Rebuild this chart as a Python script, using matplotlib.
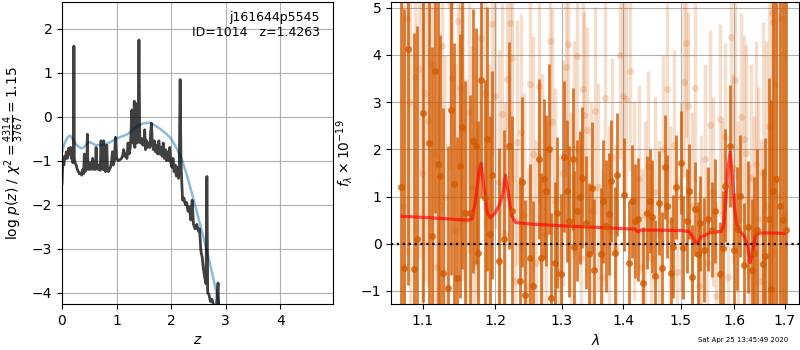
import numpy as np
import matplotlib
matplotlib.use('Agg')
import matplotlib.pyplot as plt
from matplotlib.ticker import FixedLocator, NullLocator, FormatStrFormatter

# left panel: log p(z) (dark) and smooth chi2 curve (blue)
z_pz = [0.000, 0.010, 0.020, 0.035, 0.050, 0.065, 0.080, 0.095, 0.110, 0.125,
        0.140, 0.155, 0.170, 0.185, 0.200, 0.210, 0.218, 0.226, 0.240, 0.260,
        0.280, 0.300, 0.320, 0.340, 0.360, 0.380, 0.395, 0.410, 0.425, 0.440,
        0.455, 0.465, 0.475, 0.490, 0.510, 0.525, 0.540, 0.560, 0.575, 0.590,
        0.610, 0.625, 0.640, 0.660, 0.680, 0.700, 0.715, 0.730, 0.750, 0.765,
        0.780, 0.800, 0.820, 0.835, 0.850, 0.870, 0.890, 0.910, 0.925, 0.940,
        0.960, 0.980, 1.000, 1.030, 1.060, 1.090, 1.110, 1.130, 1.150, 1.170,
        1.190, 1.210, 1.230, 1.250, 1.265, 1.280, 1.290, 1.310, 1.325, 1.335,
        1.350, 1.365, 1.380, 1.395, 1.410, 1.425, 1.440, 1.460, 1.480, 1.500,
        1.515, 1.530, 1.550, 1.570, 1.590, 1.610, 1.625, 1.640, 1.655, 1.675,
        1.695, 1.715, 1.735, 1.755, 1.775, 1.795, 1.815, 1.835, 1.855, 1.875,
        1.895, 1.915, 1.935, 1.955, 1.975, 1.995, 2.015, 2.035, 2.055, 2.075,
        2.095, 2.115, 2.135, 2.150, 2.165, 2.180, 2.195, 2.210, 2.235, 2.260,
        2.285, 2.310, 2.335, 2.360, 2.385, 2.410, 2.440, 2.470, 2.500, 2.520,
        2.545, 2.570, 2.590, 2.615, 2.640, 2.655, 2.670, 2.695, 2.720, 2.750,
        2.790, 2.830, 2.860, 2.875]
logp = [-1.52, -1.15, -1.00, -1.10, -0.90, -0.95, -0.80, -0.95, -0.85, -0.72,
        -0.85, -0.70, -0.95, -0.80, -1.05, -0.90, 1.60, -0.95, -1.05, -1.10,
        -1.20, -1.25, -1.30, -1.28, -1.33, -1.20, -1.30, -0.85, -1.25, -1.15,
        -1.20, -0.40, -1.10, -1.20, -1.05, -1.20, -1.15, -0.95, -1.20, -1.10,
        -1.20, -0.70, -1.15, -1.20, -1.10, -1.22, -0.55, -1.15, -1.20, -0.55,
        -1.20, -1.25, -0.65, -1.20, -1.25, -1.20, -1.15, -1.00, -0.80, -1.10,
        -1.00, -0.47, -0.95, -1.00, -0.98, -0.95, -0.90, -0.75, -0.90, -0.85,
        -0.95, -0.60, -0.85, -0.70, -0.40, 0.15, -0.60, -0.30, 0.35, -0.70,
        0.30, -0.50, -0.60, -0.30, 1.74, -0.55, -0.60, -0.50, -0.65, -0.60,
        -0.30, -0.75, -0.55, -0.70, -0.60, -0.70, -0.35, -0.15, -0.60, -0.75,
        -0.55, -0.80, -0.65, -0.85, -0.55, -0.85, -0.70, -0.90, -0.60, -0.95,
        -0.75, -1.00, -0.80, -1.00, -0.70, -1.05, -1.15, -0.95, -1.25, -1.10,
        -1.35, -1.15, -1.40, -1.10, 0.84, -1.00, -1.50, -1.90, -1.85, -2.00,
        -1.95, -2.15, -2.05, -2.35, -1.90, -2.45, -2.55, -2.45, -2.60, -2.55,
        -3.05, -3.20, -3.45, -3.65, -3.80, -1.36, -4.00, -4.05, -4.20, -4.15,
        -4.35, -4.30, -3.78, -4.50]

z_chi = [0.00, 0.05, 0.10, 0.15, 0.20, 0.25, 0.30, 0.35, 0.40, 0.45, 0.50,
         0.55, 0.60, 0.70, 0.80, 0.90, 1.00, 1.10, 1.20, 1.30, 1.40, 1.50,
         1.60, 1.70, 1.80, 1.90, 2.00, 2.10, 2.20, 2.30, 2.40, 2.50, 2.60,
         2.70, 2.80, 2.90]
chi_curve = [-0.80, -0.60, -0.47, -0.43, -0.52, -0.62, -0.68, -0.72, -0.70,
             -0.62, -0.58, -0.60, -0.64, -0.65, -0.63, -0.57, -0.50, -0.45,
             -0.40, -0.30, -0.20, -0.15, -0.14, -0.20, -0.28, -0.38, -0.50,
             -0.72, -0.98, -1.38, -1.83, -2.30, -2.78, -3.28, -3.82, -4.40]

# right panel: spectrum, first beam (dark)
wave_a = [1.072, 1.076, 1.081, 1.089, 1.093, 1.100, 1.108,
          1.112, 1.116, 1.120, 1.123, 1.127, 1.134, 1.138, 1.142, 1.146,
          1.150, 1.153, 1.157, 1.164, 1.169, 1.173, 1.176, 1.180, 1.185,
          1.188, 1.192, 1.195, 1.205, 1.213, 1.220, 1.225,
          1.236, 1.239, 1.244, 1.252, 1.256, 1.265,
          1.268, 1.272, 1.276, 1.280, 1.283, 1.289, 1.293, 1.299, 1.303, 1.308,
          1.312, 1.318, 1.320, 1.325, 1.329, 1.333, 1.338, 1.343, 1.348, 1.352,
          1.363, 1.367, 1.372, 1.377, 1.379, 1.386, 1.390, 1.401,
          1.409, 1.414, 1.420, 1.425, 1.433, 1.440, 1.446, 1.450, 1.455, 1.461,
          1.466, 1.472, 1.476, 1.482, 1.487, 1.492, 1.500, 1.504, 1.511, 1.515,
          1.520, 1.527, 1.531, 1.535, 1.542, 1.551, 1.557, 1.563,
          1.573, 1.578, 1.583, 1.592, 1.599, 1.605, 1.611, 1.619,
          1.626, 1.634, 1.639, 1.644, 1.657, 1.661, 1.668, 1.672,
          1.677, 1.683, 1.690, 1.697, 1.703]
flux_a = [1.20, -0.52, 4.13, -0.53, 0.11, 2.77, 2.13,
          0.17, 3.66, 1.69, 1.43, -0.62, -0.93, 2.84, 1.26, -0.73,
          1.64, 2.47, 0.65, 0.65, 2.18, 2.08, -0.19, 3.47, 0.96,
          2.22, 0.20, 1.46, -0.37, 0.10, 2.08, 0.70,
          -0.78, 1.30, -1.08, -0.30, -0.90, 1.79,
          -0.30, 1.37, 1.12, 2.00, -1.15, -0.40, 0.66, -0.65, 1.84, 1.12,
          0.48, 1.79, -0.06, 0.70, 0.98, 1.40, 0.45, -0.22, 1.19, -0.55,
          -0.21, 0.90, 0.38, 0.63, 1.33, -0.19, 1.46, 1.04,
          -0.40, 0.90, 0.48, 0.52, -0.84, 0.66, 0.90, 0.57, -0.69, 0.87,
          -0.52, 1.62, 0.79, -0.63, -0.06, 1.20, 1.72, -0.08, 0.48, 1.11,
          -0.70, 0.74, -0.22, 0.43, -0.13, 0.52, 0.30, 0.70,
          -0.64, -0.09, 1.23, 2.07, -0.13, 0.32, 1.01, -0.44,
          0.35, -0.55, -0.19, 0.30, -0.42, -0.26, 0.52, -0.96,
          1.11, 1.38, 0.80, 0.50, 0.30]
err_a = [6.0, 5.5, 5.0, 5.0, 4.5, 4.0, 3.5,
         4.0, 3.0, 3.5, 3.0, 3.5, 3.0, 3.5, 3.0, 3.0,
         2.8, 3.0, 2.8, 2.5, 2.8, 2.5, 2.8, 2.5, 2.5,
         2.8, 2.5, 2.2, 2.4, 2.3, 2.2, 2.0,
         2.2, 1.8, 2.0, 2.0, 1.8, 1.7,
         1.8, 1.7, 1.6, 1.8, 1.8, 1.7, 1.6, 1.7, 1.6, 1.5,
         1.6, 1.5, 1.6, 1.5, 1.4, 1.5, 1.4, 1.5, 1.4, 1.5,
         1.4, 1.3, 1.4, 1.3, 1.3, 1.4, 1.3, 1.2,
         1.3, 1.2, 1.2, 1.3, 1.2, 1.2, 1.1, 1.2, 1.2, 1.1,
         1.2, 1.1, 1.1, 1.2, 1.1, 1.1, 1.1, 1.1, 1.1, 1.0,
         1.1, 1.0, 1.1, 1.0, 1.1, 1.1, 1.0, 1.1,
         1.1, 1.2, 1.2, 1.3, 1.2, 1.3, 1.3, 1.3,
         1.4, 1.5, 1.6, 1.7, 2.0, 2.5, 3.0, 4.0,
         5.0, 6.0, 7.0, 8.0, 8.0]

# second beam (faint)
wave_b = [1.074, 1.079, 1.083, 1.090, 1.095, 1.099, 1.103, 1.107, 1.111, 1.115,
          1.119, 1.126, 1.130, 1.136, 1.140, 1.144, 1.148, 1.151, 1.155, 1.159,
          1.163, 1.167, 1.171, 1.175, 1.180, 1.186, 1.191, 1.196, 1.200, 1.205,
          1.210, 1.214, 1.218, 1.222, 1.225, 1.229, 1.232, 1.238, 1.243, 1.248,
          1.252, 1.256, 1.261, 1.265, 1.270, 1.275, 1.282, 1.285, 1.290, 1.296,
          1.302, 1.307, 1.310, 1.315, 1.320, 1.324, 1.330, 1.334, 1.336, 1.340,
          1.346, 1.353, 1.358, 1.364, 1.370, 1.376, 1.382, 1.388, 1.394, 1.399,
          1.405, 1.411, 1.418, 1.426, 1.432, 1.437, 1.442, 1.448, 1.455, 1.462,
          1.468, 1.475, 1.481, 1.488, 1.494, 1.500, 1.506, 1.509, 1.514, 1.520,
          1.527, 1.533, 1.538, 1.544, 1.549, 1.554, 1.560, 1.566, 1.572, 1.577,
          1.582, 1.588, 1.594, 1.598, 1.602, 1.607, 1.613, 1.619, 1.623, 1.628,
          1.633, 1.638, 1.642, 1.647, 1.652, 1.657, 1.662, 1.668, 1.674, 1.677,
          1.681, 1.687, 1.693, 1.699]
flux_b = [0.80, 4.77, 3.00, 3.53, 3.70, 1.50, 3.20, 2.60, 3.80, 1.90,
          -0.50, 4.19, 1.00, 5.07, 3.52, 0.30, 4.72, 3.30, 2.40, 0.50,
          2.80, 1.20, -0.40, 1.64, 4.35, 3.20, 0.80, 4.65, 3.14, 1.30,
          2.75, 0.20, 3.50, 4.68, 3.94, -0.80, 2.15, 2.36, 0.60, -0.90,
          3.39, 1.90, -0.40, 3.35, 1.10, 0.20, 4.30, 2.57, 0.90, -0.60,
          1.50, 3.74, 4.24, 0.40, 2.00, 3.98, -0.30, 3.28, 2.72, 2.40,
          0.70, 2.82, 1.20, -0.70, 3.09, 0.30, 1.83, -0.10, 3.99, 3.13,
          3.07, 3.65, 0.90, 1.37, -0.50, 0.60, 1.65, -0.30, 1.10, 0.20,
          2.00, 3.28, 0.50, 2.10, -0.60, 1.00, 3.42, 4.26, 2.91, 0.80,
          3.30, -0.90, 0.30, 1.80, -0.40, 2.52, 1.10, -1.10, 2.65, 0.60,
          2.26, -0.70, 4.38, 1.60, 3.48, 0.50, 2.68, 2.22, 1.92, -0.60,
          1.40, 0.20, 1.70, 0.52, -0.80, 1.50, 0.80, 2.50, 4.88, 4.70,
          3.38, 1.00, 4.77, 0.60]
err_b = [6.0, 5.0, 5.0, 4.5, 4.0, 4.5, 4.0, 3.5, 3.5, 4.0,
         3.5, 3.5, 3.0, 3.5, 3.0, 3.5, 3.0, 3.0, 3.2, 3.0,
         3.0, 3.0, 3.0, 2.8, 3.0, 2.8, 3.0, 2.8, 2.8, 2.8,
         2.6, 2.8, 2.6, 2.6, 2.6, 2.8, 2.6, 2.5, 2.6, 2.5,
         2.5, 2.5, 2.6, 2.5, 2.5, 2.4, 2.5, 2.4, 2.4, 2.5,
         2.4, 2.3, 2.3, 2.4, 2.3, 2.3, 2.4, 2.3, 2.2, 2.2,
         2.3, 2.2, 2.2, 2.3, 2.2, 2.2, 2.1, 2.2, 2.2, 2.1,
         2.1, 2.1, 2.1, 2.0, 2.1, 2.0, 2.0, 2.0, 2.0, 2.0,
         2.0, 2.0, 2.0, 2.0, 2.0, 2.0, 2.0, 2.0, 2.0, 2.0,
         2.0, 2.0, 2.0, 2.0, 2.0, 2.0, 2.0, 2.0, 2.0, 2.0,
         2.0, 2.0, 2.2, 2.0, 2.1, 2.1, 2.2, 2.2, 2.3, 2.3,
         2.4, 2.5, 2.6, 2.8, 3.0, 3.2, 3.5, 4.0, 4.5, 5.0,
         5.5, 6.0, 6.0, 7.0]

# best-fit model
wave_m = [1.073, 1.100, 1.130, 1.160, 1.167, 1.172, 1.177, 1.180, 1.184, 1.189,
          1.193, 1.200, 1.207, 1.211, 1.215, 1.219, 1.224, 1.230, 1.250, 1.300,
          1.350, 1.400, 1.420, 1.425, 1.430, 1.450, 1.500, 1.515, 1.522, 1.527,
          1.532, 1.538, 1.545, 1.555, 1.575, 1.580, 1.584, 1.588, 1.592, 1.596,
          1.600, 1.605, 1.612, 1.620, 1.626, 1.631, 1.636, 1.641, 1.646, 1.660,
          1.700]
flux_m = [0.58, 0.56, 0.53, 0.50, 0.52, 0.90, 1.55, 1.70, 1.20, 0.65,
          0.55, 0.65, 0.85, 1.05, 1.45, 1.10, 0.60, 0.45, 0.42, 0.38,
          0.35, 0.32, 0.31, 0.25, 0.29, 0.29, 0.28, 0.26, 0.15, 0.02,
          0.05, 0.15, 0.18, 0.24, 0.26, 0.40, 0.95, 1.60, 1.95, 1.50,
          0.80, 0.40, 0.25, 0.15, -0.05, -0.40, -0.15, 0.15, 0.22, 0.23,
          0.22]

spec_color = '#D35A00'


def main():
    fig = plt.figure(figsize=(8, 3.5), dpi=100)
    ax1 = fig.add_axes([0.0775, 0.131, 0.339, 0.863])
    ax2 = fig.add_axes([0.489, 0.131, 0.51, 0.863])

    # p(z)
    ax1.plot(z_chi, chi_curve, color='tab:blue', alpha=0.5, lw=1.8)
    ax1.plot(z_pz, logp, color='k', alpha=0.75, lw=2)
    ax1.set_xlim(0, 4.97)
    ax1.set_ylim(-4.26, 2.6)
    ax1.set_xlabel('$z$')
    ax1.set_ylabel(r'$\log\,p(z)$ / $\chi^2=\frac{4314}{3767}=1.15$')
    ax1.grid()
    ax1.text(0.95, 0.97, 'j161644p5545\nID=1014   z=1.4263',
             ha='right', va='top', transform=ax1.transAxes, fontsize=9)

    # spectrum
    ax2.errorbar(wave_b, flux_b, yerr=err_b, fmt='o', ms=5, color=spec_color,
                 alpha=0.2, elinewidth=2.5, mec='none')
    ax2.errorbar(wave_a, flux_a, yerr=err_a, fmt='o', ms=5, color=spec_color,
                 alpha=0.8, elinewidth=2.0, mec='none')
    ax2.plot(wave_m, flux_m, color='r', alpha=0.65, lw=2.3)
    ax2.axhline(0, color='k', linestyle=':', lw=1.6)

    ax2.set_xscale('log')
    ax2.set_xlim(1.059, 1.73)
    ax2.set_ylim(-1.28, 5.12)
    ax2.xaxis.set_major_locator(FixedLocator([1.1, 1.2, 1.3, 1.4, 1.5, 1.6, 1.7]))
    ax2.xaxis.set_major_formatter(FormatStrFormatter('%.1f'))
    ax2.xaxis.set_minor_locator(NullLocator())
    ax2.set_xlabel(r'$\lambda$')
    ax2.set_ylabel(r'$f_\lambda\times10^{-19}$')
    ax2.grid()

    fig.text(0.985, 0.02, 'Sat Apr 25 13:45:49 2020', ha='right', va='bottom',
             fontsize=5)

    fig.savefig('out.png', dpi=100)


if __name__ == "__main__":
    main()
